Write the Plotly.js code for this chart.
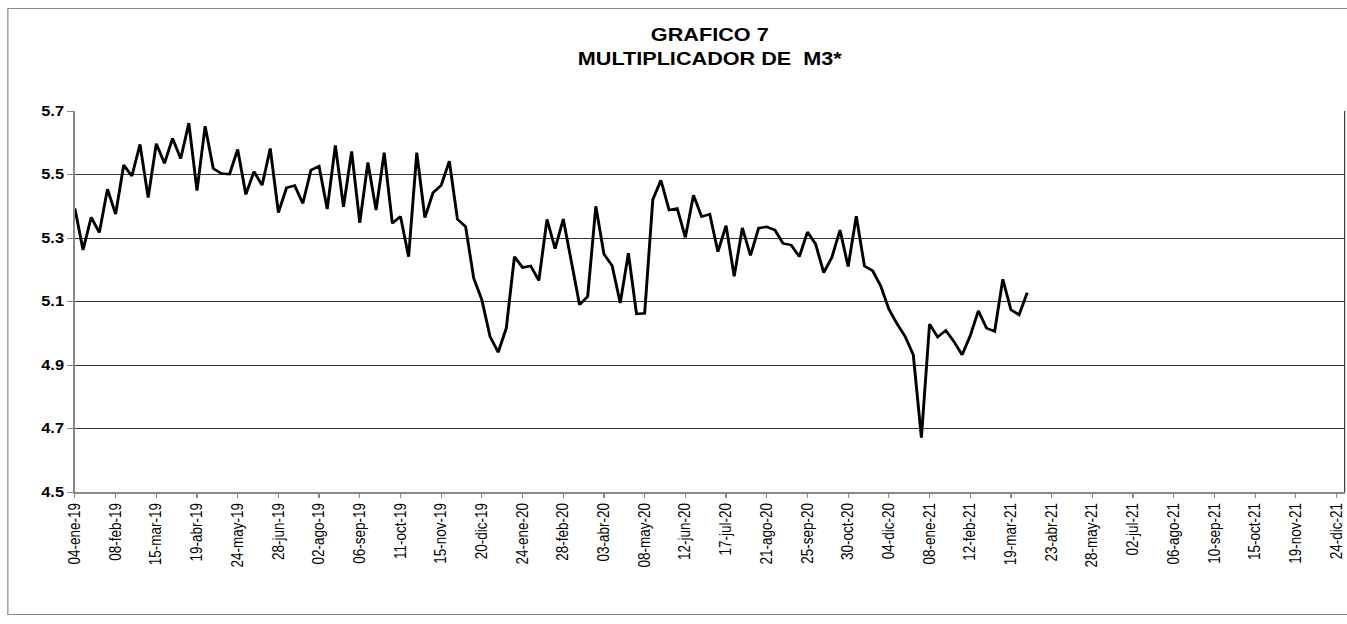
<!DOCTYPE html>
<html>
<head>
<meta charset="utf-8">
<script src="https://cdn.plot.ly/plotly-3.0.1.min.js"></script>
<style>
html,body{margin:0;padding:0;background:#fff;overflow:hidden;}
#wrap{width:1347px;height:624px;overflow:hidden;}
#chart{width:1151px;height:624px;transform:scaleX(1.170287);transform-origin:0 0;}
</style>
</head>
<body>
<div id="wrap"><div id="chart"></div></div>
<script>
const dates = [
'2019-01-04','2019-01-11','2019-01-18','2019-01-25','2019-02-01','2019-02-08','2019-02-15','2019-02-22',
'2019-03-01','2019-03-08','2019-03-15','2019-03-22','2019-03-29','2019-04-05','2019-04-12','2019-04-19','2019-04-26',
'2019-05-03','2019-05-10','2019-05-17','2019-05-24','2019-05-31','2019-06-07','2019-06-14','2019-06-21','2019-06-28',
'2019-07-05','2019-07-12','2019-07-19','2019-07-26','2019-08-02','2019-08-09','2019-08-16','2019-08-23','2019-08-30',
'2019-09-06','2019-09-13','2019-09-20','2019-09-27','2019-10-04','2019-10-11','2019-10-18','2019-10-25',
'2019-11-01','2019-11-08','2019-11-15','2019-11-22','2019-11-29','2019-12-06','2019-12-13','2019-12-20','2019-12-27',
'2020-01-03','2020-01-10','2020-01-17','2020-01-24','2020-01-31','2020-02-07','2020-02-14','2020-02-21','2020-02-28',
'2020-03-06','2020-03-13','2020-03-20','2020-03-27','2020-04-03','2020-04-10','2020-04-17','2020-04-24',
'2020-05-01','2020-05-08','2020-05-15','2020-05-22','2020-05-29','2020-06-05','2020-06-12','2020-06-19','2020-06-26',
'2020-07-03','2020-07-10','2020-07-17','2020-07-24','2020-07-31','2020-08-07','2020-08-14','2020-08-21','2020-08-28',
'2020-09-04','2020-09-11','2020-09-18','2020-09-25','2020-10-02','2020-10-09','2020-10-16','2020-10-23','2020-10-30',
'2020-11-06','2020-11-13','2020-11-20','2020-11-27','2020-12-04','2020-12-11','2020-12-18','2020-12-25',
'2021-01-01','2021-01-08','2021-01-15','2021-01-22','2021-01-29','2021-02-05','2021-02-12','2021-02-19','2021-02-26',
'2021-03-05','2021-03-12','2021-03-19','2021-03-26','2021-04-02'
];
const multiplicadorM3 = [
5.393,5.262,5.365,5.317,5.454,5.375,5.530,5.495,5.595,5.427,5.597,5.535,5.614,5.550,5.662,5.449,5.652,
5.519,5.503,5.501,5.579,5.437,5.509,5.466,5.582,5.380,5.458,5.465,5.409,5.514,5.526,5.391,5.592,5.398,5.573,
5.348,5.538,5.388,5.569,5.346,5.368,5.241,5.569,5.364,5.443,5.466,5.542,5.359,5.336,5.173,5.105,4.990,
4.940,5.016,5.241,5.207,5.212,5.166,5.359,5.266,5.360,5.226,5.090,5.116,5.400,5.249,5.213,5.095,5.252,
5.061,5.063,5.421,5.482,5.388,5.393,5.302,5.435,5.367,5.375,5.257,5.339,5.179,5.332,5.245,5.331,5.335,
5.325,5.283,5.278,5.241,5.319,5.281,5.191,5.239,5.325,5.210,5.369,5.212,5.197,5.149,5.076,5.030,4.990,4.932,
4.671,5.029,4.988,5.009,4.974,4.932,4.992,5.071,5.016,5.006,5.170,5.074,5.058,5.128
];
const tickDates = [
'2019-01-04','2019-02-08','2019-03-15','2019-04-19','2019-05-24','2019-06-28','2019-08-02','2019-09-06',
'2019-10-11','2019-11-15','2019-12-20','2020-01-24','2020-02-28','2020-04-03','2020-05-08','2020-06-12',
'2020-07-17','2020-08-21','2020-09-25','2020-10-30','2020-12-04','2021-01-08','2021-02-12','2021-03-19',
'2021-04-23','2021-05-28','2021-07-02','2021-08-06','2021-09-10','2021-10-15','2021-11-19','2021-12-24'
];
const tickLabels = [
'04-ene-19','08-feb-19','15-mar-19','19-abr-19','24-may-19','28-jun-19','02-ago-19','06-sep-19',
'11-oct-19','15-nov-19','20-dic-19','24-ene-20','28-feb-20','03-abr-20','08-may-20','12-jun-20',
'17-jul-20','21-ago-20','25-sep-20','30-oct-20','04-dic-20','08-ene-21','12-feb-21','19-mar-21',
'23-abr-21','28-may-21','02-jul-21','06-ago-21','10-sep-21','15-oct-21','19-nov-21','24-dic-21'
];
const yTicks = [4.5,4.7,4.9,5.1,5.3,5.5,5.7];
const yTickLabels = ['4.5','4.7','4.9','5.1','5.3','5.5','5.7'];

const font = 'Arial, "Liberation Sans", sans-serif';
const trace = {
  x: dates, y: multiplicadorM3, type: 'scatter', mode: 'lines',
  line: {color: '#000000', width: 2.5, shape: 'linear'},
  hoverinfo: 'x+y', showlegend: false
};
const layout = {
  width: 1151, height: 624,
  paper_bgcolor: '#ffffff', plot_bgcolor: '#ffffff',
  margin: {l: 64.09, r: 1.7, t: 110.7, b: 131.7, pad: 0},
  title: {
    text: '<b>GRAFICO 7</b><br><b>MULTIPLICADOR DE  M3*</b>',
    font: {family: font, size: 18.5, color: '#000'},
    x: 0.5, xref: 'paper', xanchor: 'center', y: 0.934, yanchor: 'middle'
  },
  xaxis: {
    type: 'date', range: ['2019-01-04', '2021-12-31'],
    tickmode: 'array', tickvals: tickDates, ticktext: tickLabels,
    tickangle: -90, tickfont: {family: font, size: 13.5, color: '#000'},
    ticks: 'outside', ticklen: 4, tickcolor: '#888', tickwidth: 1,
    showgrid: false, zeroline: false,
    showline: true, linecolor: '#888', linewidth: 1.5
  },
  yaxis: {
    range: [4.5, 5.7], tickmode: 'array', tickvals: yTicks, ticktext: yTickLabels,
    tickfont: {family: font, size: 14, color: '#000', weight: 'bold'},
    ticks: 'outside', ticklen: 5, tickcolor: '#888', tickwidth: 1,
    showgrid: true, gridcolor: '#333', gridwidth: 1,
    zeroline: false, showline: true, linecolor: '#888', linewidth: 1.5,
    mirror: false
  },
  shapes: [
    {type: 'line', xref: 'paper', yref: 'paper', x0: 1, x1: 1, y0: 0, y1: 1,
     line: {color: '#333', width: 1}},
    {type: 'rect', xref: 'paper', yref: 'paper', x0: -0.0528, x1: 1.05, y0: -0.3215, y1: 1.269,
     line: {color: '#888', width: 1}, fillcolor: 'rgba(0,0,0,0)', layer: 'below'}
  ]
};
Plotly.newPlot('chart', [trace], layout, {displayModeBar: false, staticPlot: true});
</script>
</body>
</html>
